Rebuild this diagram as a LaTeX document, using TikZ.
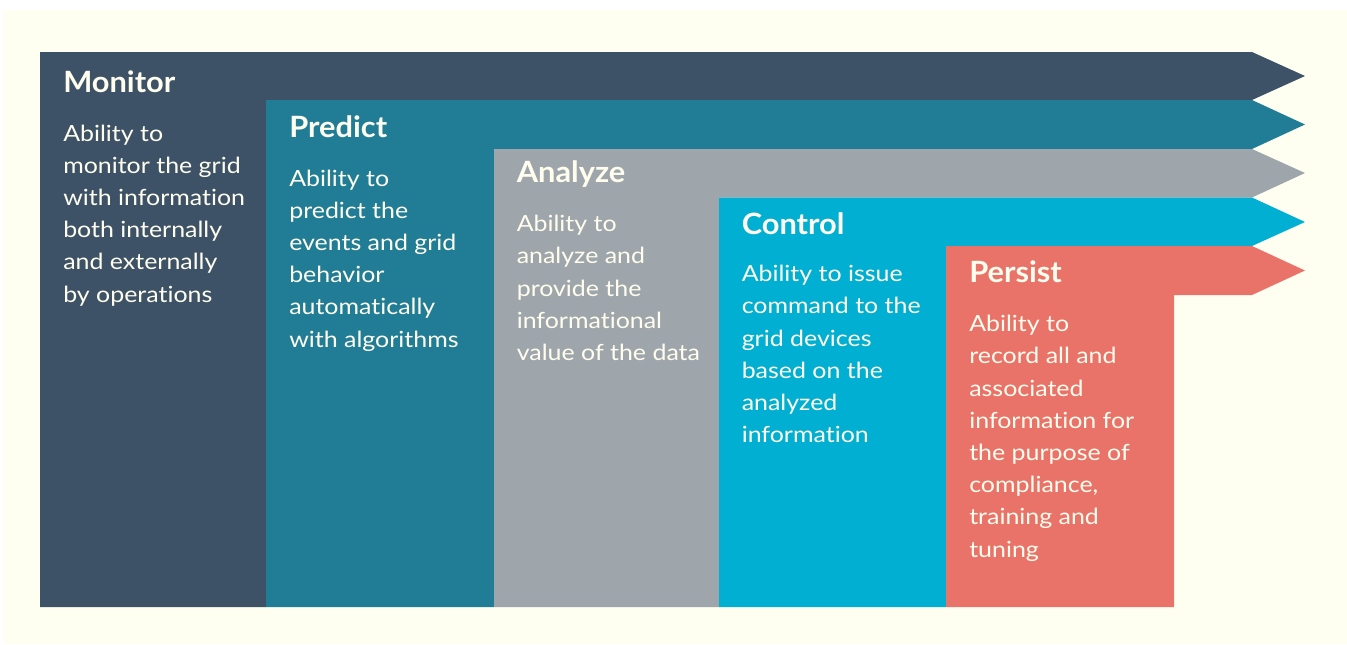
\documentclass[tikz,border=0pt]{standalone}
\usepackage{fontspec}
\setmainfont{Lato}
\newfontfamily\titlefont[FakeStretch=1.05,Ligatures=NoCommon]{Lato Bold}
\newfontfamily\bodyfont[FakeStretch=1.12,Ligatures=NoCommon]{Lato}
\definecolor{bgcream}{HTML}{FEFFF0}
\definecolor{txtcream}{HTML}{FFFDEE}
\definecolor{cmonitor}{HTML}{3D5266}
\definecolor{cpredict}{HTML}{217D96}
\definecolor{canalyze}{HTML}{9EA6AB}
\definecolor{ccontrol}{HTML}{00AFD1}
\definecolor{cpersist}{HTML}{EA7369}
\begin{document}
\begin{tikzpicture}[x=0.75pt,y=-0.75pt,
  titletext/.style={anchor=base west,inner sep=0pt,text=txtcream,font=\titlefont\fontsize{22pt}{26pt}\selectfont},
  bodytext/.style={anchor=base west,inner sep=0pt,text=txtcream,align=left,font=\bodyfont\fontsize{16.7pt}{24.15pt}\selectfont}]
\useasboundingbox (0,0) rectangle (1347,644);
\fill[white] (0,0) rectangle (1347,644);
\fill[bgcream] (3,10) rectangle (1347,644);
% bands: column + arrow band
\fill[cmonitor] (40,52) -- (1252,52) -- (1305,76) -- (1252,100) -- (266,100) -- (266,607) -- (40,607) -- cycle;
\fill[cpredict] (266,100) -- (1252,100) -- (1305,124.5) -- (1252,149) -- (494,149) -- (494,607) -- (266,607) -- cycle;
\fill[canalyze] (494,149) -- (1252,149) -- (1305,173) -- (1252,197.5) -- (719,197.5) -- (719,607) -- (494,607) -- cycle;
\fill[ccontrol] (719,197.5) -- (1252,197.5) -- (1305,222) -- (1252,246) -- (946,246) -- (946,607) -- (719,607) -- cycle;
\fill[cpersist] (946,246) -- (1252,246) -- (1305,270.5) -- (1252,295) -- (1174,295) -- (1174,607) -- (946,607) -- cycle;
% titles
\node[titletext] (tmon) at (63,92) {Monitor};
\node[titletext] (tpre) at (289,137) {Predict};
\node[titletext] (tana) at (516.5,182) {Analyze};
\node[titletext] (tcon) at (741.5,234) {Control};
\node[titletext] (tper) at (969,282.3) {Persist};
% bodies (base anchor = baseline of last line)
\node[bodytext] (bmon) at (63,302) {Ability to\\monitor the grid\\with information\\both internally\\and externally\\by operations};
\node[bodytext] (bpre) at (289,347) {Ability to\\predict the\\events and grid\\behavior\\automatically\\with algorithms};
\node[bodytext] (bana) at (516.5,360.5) {Ability to\\analyze and\\provide the\\informational\\value of the data};
\node[bodytext] (bcon) at (741.5,442.7) {Ability to issue\\command to the\\grid devices\\based on the\\analyzed\\information};
\node[bodytext] (bper) at (969,557.1) {Ability to\\record all and\\associated\\information for\\the purpose of\\compliance,\\training and\\tuning};
\end{tikzpicture}
\end{document}
